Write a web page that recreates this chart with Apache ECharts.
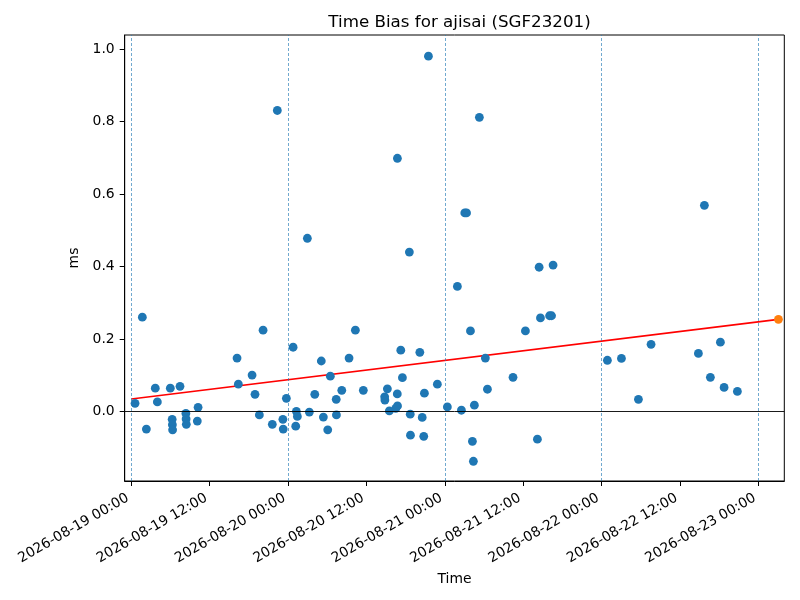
<!DOCTYPE html>
<html>
<head>
<meta charset="utf-8">
<script src="https://cdn.jsdelivr.net/npm/echarts@6/dist/echarts.min.js"></script>
<style>html,body{margin:0;padding:0;background:#fff;}#c{width:800px;height:600px;}</style>
</head>
<body>
<div id="c"></div>
<script>
// ---- data ----
const pointTimes = [
 '2026-08-19 00:34','2026-08-19 01:41','2026-08-19 02:18','2026-08-19 03:40','2026-08-19 03:59',
 '2026-08-19 05:58','2026-08-19 06:15','2026-08-19 06:17','2026-08-19 06:19','2026-08-19 07:27',
 '2026-08-19 08:21','2026-08-19 08:23','2026-08-19 08:25','2026-08-19 10:06','2026-08-19 10:13',
 '2026-08-19 16:11','2026-08-19 16:23','2026-08-19 18:29','2026-08-19 18:56','2026-08-19 19:36',
 '2026-08-19 20:10','2026-08-19 21:35','2026-08-19 22:21','2026-08-19 23:12','2026-08-19 23:15',
 '2026-08-19 23:44',
 '2026-08-20 00:46','2026-08-20 01:10','2026-08-20 01:16','2026-08-20 01:25','2026-08-20 02:57',
 '2026-08-20 03:15','2026-08-20 04:05','2026-08-20 05:05','2026-08-20 05:24','2026-08-20 06:04',
 '2026-08-20 06:28','2026-08-20 07:22','2026-08-20 07:24','2026-08-20 08:13','2026-08-20 09:20',
 '2026-08-20 10:18','2026-08-20 11:31','2026-08-20 14:47','2026-08-20 14:49','2026-08-20 15:12',
 '2026-08-20 15:30','2026-08-20 16:29','2026-08-20 16:43','2026-08-20 16:45','2026-08-20 16:44',
 '2026-08-20 17:15','2026-08-20 17:30','2026-08-20 18:34','2026-08-20 18:42','2026-08-20 18:44',
 '2026-08-20 20:10','2026-08-20 20:32','2026-08-20 20:46','2026-08-20 20:52','2026-08-20 21:29',
 '2026-08-20 22:51',
 '2026-08-21 00:23','2026-08-21 01:55','2026-08-21 02:32','2026-08-21 03:03','2026-08-21 03:19',
 '2026-08-21 03:55','2026-08-21 04:13','2026-08-21 04:22','2026-08-21 04:31','2026-08-21 05:17',
 '2026-08-21 06:12','2026-08-21 06:31','2026-08-21 10:26','2026-08-21 12:20','2026-08-21 14:10',
 '2026-08-21 14:26','2026-08-21 14:38','2026-08-21 16:02','2026-08-21 16:20','2026-08-21 16:34',
 '2026-08-22 00:53','2026-08-22 03:02','2026-08-22 05:38','2026-08-22 07:34','2026-08-22 14:49',
 '2026-08-22 15:44','2026-08-22 16:39','2026-08-22 18:11','2026-08-22 18:45','2026-08-22 20:47'
];
const pointValues = [
 0.022,0.260,-0.049,0.064,0.026,
 0.064,-0.022,-0.037,-0.051,0.069,
 -0.006,-0.021,-0.036,-0.027,0.011,
 0.147,0.075,0.100,0.047,-0.010,
 0.224,-0.036,0.831,-0.022,-0.049,
 0.036,
 0.177,-0.041,0.000,-0.014,0.478,
 -0.002,0.047,0.139,-0.016,-0.051,
 0.097,0.033,-0.010,0.058,0.147,
 0.224,0.058,0.040,0.031,0.062,
 0.001,0.008,0.048,0.015,0.699,
 0.169,0.093,0.440,-0.008,-0.066,
 0.163,-0.017,-0.069,0.050,0.981,
 0.075,
 0.012,0.345,0.003,0.548,0.548,
 0.222,-0.083,-0.138,0.017,0.812,
 0.147,0.061,0.094,0.222,-0.077,
 0.398,0.258,0.264,0.264,0.404,
 0.141,0.146,0.033,0.185,0.160,
 0.569,0.094,0.191,0.066,0.055
];
const predTimes = ['2026-08-23 03:04'];
const predValues = [0.254];
const trendTimes = ['2026-08-19 00:00','2026-08-23 03:04'];
const trendValues = [0.034, 0.254];
const xTickLabels = ['2026-08-19 00:00','2026-08-19 12:00','2026-08-20 00:00','2026-08-20 12:00',
 '2026-08-21 00:00','2026-08-21 12:00','2026-08-22 00:00','2026-08-22 12:00','2026-08-23 00:00'];
const dayLines = ['2026-08-19 00:00','2026-08-20 00:00','2026-08-21 00:00','2026-08-22 00:00','2026-08-23 00:00'];
const yTicks = [0.0,0.2,0.4,0.6,0.8,1.0];
const xRange = ['2026-08-18 22:59','2026-08-23 03:58'];
const yRange = [-0.1925, 1.0395];

// ---- helpers ----
function t(s){
  const [d,h] = s.split(' ');
  const [Y,M,D] = d.split('-').map(Number);
  const [hh,mm] = h.split(':').map(Number);
  return Date.UTC(Y,M-1,D,hh,mm);
}
const xTickVals = xTickLabels.map(t);
const FONT = 'DejaVu Sans';

const chart = echarts.init(document.getElementById('c'), null, {renderer:'canvas'});
chart.setOption({
  animation:false,
  backgroundColor:'#fff',
  title:{
    text:'Time Bias for ajisai (SGF23201)',
    left:454.5, top:9, textAlign:'center',
    textStyle:{fontFamily:FONT, fontSize:16.7, fontWeight:'normal', color:'#000'}
  },
  grid:{left:124.7, right:15.7, top:35, bottom:119, show:true, borderColor:'#000', borderWidth:1, backgroundColor:'transparent'},
  xAxis:{
    type:'value', min:t(xRange[0]), max:t(xRange[1]),
    name:'Time', nameLocation:'middle', nameGap:90,
    nameTextStyle:{fontFamily:FONT, fontSize:13.9, color:'#000'},
    axisLine:{onZero:false, lineStyle:{color:'#000', width:1}},
    axisTick:{customValues:xTickVals, length:5, lineStyle:{color:'#000', width:1}},
    axisLabel:{customValues:xTickVals, rotate:30, margin:14, padding:[0,4,0,0], fontFamily:FONT, fontSize:13.9, color:'#000',
      formatter:function(v){ const i = xTickVals.indexOf(v); return i>=0 ? xTickLabels[i] : ''; }},
    splitLine:{show:false}
  },
  yAxis:{
    type:'value', min:yRange[0], max:yRange[1],
    name:'ms', nameLocation:'middle', nameGap:39,
    nameTextStyle:{fontFamily:FONT, fontSize:13.9, color:'#000'},
    axisLine:{show:true, onZero:false, lineStyle:{color:'#000', width:1}},
    axisTick:{show:true, customValues:yTicks, length:5, lineStyle:{color:'#000', width:1}},
    axisLabel:{customValues:yTicks, margin:10, fontFamily:FONT, fontSize:13.9, color:'#000',
      formatter:function(v){ return v.toFixed(1); }},
    splitLine:{show:false}
  },
  series:[
    {
      type:'line', z:2,
      data: trendTimes.map((s,i)=>[t(s), trendValues[i]]),
      showSymbol:false, symbol:'none',
      lineStyle:{color:'#ff0000', width:1.6},
      markLine:{
        silent:true, symbol:['none','none'], label:{show:false}, animation:false,
        lineStyle:{color:'#1f77b4', width:0.8, type:[3,2], opacity:0.8},
        data:[{yAxis:0, lineStyle:{color:'#000', width:0.9, type:'solid', opacity:1}}]
          .concat(dayLines.map(s=>({xAxis:t(s)})))
      }
    },
    {
      type:'scatter', z:3,
      data: pointTimes.map((s,i)=>[t(s), pointValues[i]]),
      symbolSize:8.8,
      itemStyle:{color:'#1f77b4', opacity:1}
    },
    {
      type:'scatter', z:4,
      data: predTimes.map((s,i)=>[t(s), predValues[i]]),
      symbolSize:8.8,
      itemStyle:{color:'#ff7f0e', opacity:1}
    }
  ]
});
</script>
</body>
</html>
